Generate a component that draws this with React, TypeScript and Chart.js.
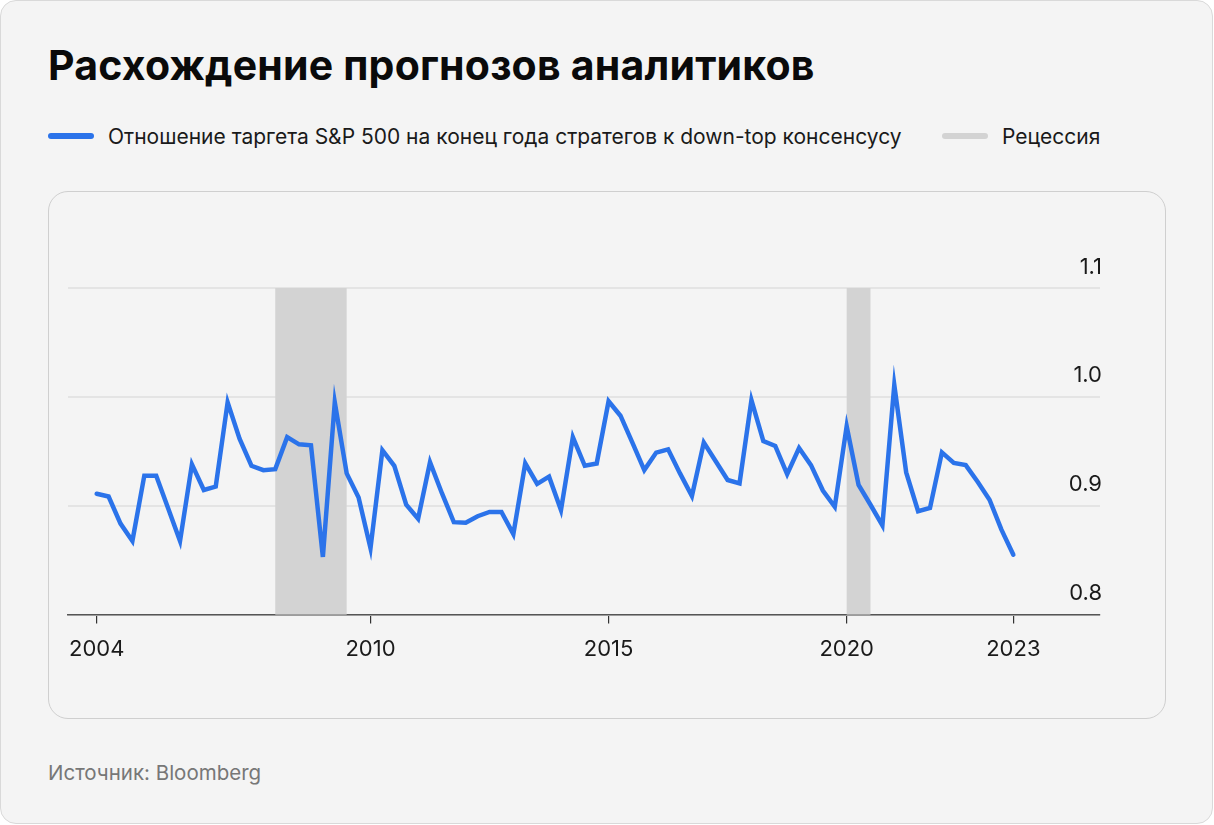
import React, { useEffect, useRef } from "react";
import { Chart, registerables } from "chart.js";

Chart.register(...registerables);

// Ratio of strategists' year-end S&P 500 target to bottom-up consensus (one point per period)
const ratioValues: number[] = [
  0.911, 0.9085, 0.8836, 0.8676, 0.9276, 0.9276, 0.8976, 0.8676, 0.938, 0.9145,
  0.9176, 0.995, 0.9615, 0.9367, 0.9327, 0.9336, 0.963, 0.9564, 0.9555, 0.853,
  0.995, 0.9297, 0.9076, 0.861, 0.951, 0.9367, 0.9009, 0.888, 0.94, 0.9115,
  0.8849, 0.8843, 0.8904, 0.8943, 0.8943, 0.874, 0.939, 0.92, 0.9267, 0.896,
  0.963, 0.9367, 0.9388, 0.996, 0.9827, 0.958, 0.9327, 0.9488, 0.9518, 0.9297,
  0.909, 0.958, 0.9409, 0.9236, 0.9206, 0.997, 0.9594, 0.9549, 0.929, 0.953,
  0.9373, 0.914, 0.899, 0.973, 0.9191, 0.9009, 0.882, 1.011, 0.9306, 0.895,
  0.898, 0.949, 0.9394, 0.9373, 0.922, 0.9055, 0.878, 0.855,
];

// x-axis tick positions (point index) and their labels
const xTickIndex: number[] = [0, 23, 43, 63, 77];
const xTickLabels: string[] = ["2004", "2010", "2015", "2020", "2023"];

// recession periods (point index start/end)
const recessionStart: number[] = [15, 63];
const recessionEnd: number[] = [21, 65];

const yTicks: number[] = [0.8, 0.9, 1.0, 1.1];

const LINE_COLOR = "#2b73ea";
const RECESSION_COLOR = "#d3d3d3";
const FONT = "Inter, 'Noto Sans', sans-serif";

const recessionPlugin = {
  id: "recessionBands",
  beforeDatasetsDraw(chart: any) {
    const { ctx, chartArea, scales } = chart;
    const x = scales.x;
    ctx.save();
    ctx.fillStyle = RECESSION_COLOR;
    for (let i = 0; i < recessionStart.length; i++) {
      const x0 = x.getPixelForValue(recessionStart[i]);
      const x1 = x.getPixelForValue(recessionEnd[i]);
      ctx.fillRect(x0, chartArea.top, x1 - x0, chartArea.bottom - chartArea.top);
    }
    ctx.restore();
  },
};

export default function App() {
  const canvasRef = useRef<HTMLCanvasElement | null>(null);

  useEffect(() => {
    if (!canvasRef.current) return;
    const chart = new Chart(canvasRef.current, {
      type: "line",
      data: {
        datasets: [
          {
            data: ratioValues.map((v, i) => ({ x: i, y: v })),
            borderColor: LINE_COLOR,
            borderWidth: 4.5,
            pointRadius: 0,
            tension: 0,
            fill: false,
            borderCapStyle: "round",
          },
        ],
      },
      options: {
        responsive: false,
        animation: false,
        layout: { padding: { top: 97, bottom: 43, left: 20, right: 62 } },
        plugins: { legend: { display: false }, tooltip: { enabled: false } },
        scales: {
          x: {
            type: "linear",
            min: -2.41,
            max: 84.28,
            afterBuildTicks: (scale: any) => {
              scale.ticks = xTickIndex.map((v) => ({ value: v }));
            },
            ticks: {
              autoSkip: false,
              maxRotation: 0,
              padding: 13,
              color: "#1a1a1a",
              font: { family: FONT, size: 22 },
              callback: (v: any) => {
                const k = xTickIndex.indexOf(Number(v));
                return k >= 0 ? xTickLabels[k] : null;
              },
            },
            grid: {
              drawOnChartArea: false,
              drawTicks: true,
              tickLength: 9,
              color: "#333",
              lineWidth: 1.2,
            },
            border: { display: true, color: "#555", width: 1.5 },
          },
          y: {
            position: "right",
            min: 0.8,
            max: 1.1,
            afterBuildTicks: (scale: any) => {
              scale.ticks = yTicks.map((v) => ({ value: v }));
            },
            ticks: {
              mirror: true,
              padding: 2,
              labelOffset: -21,
              color: "#1a1a1a",
              font: { family: FONT, size: 22 },
              callback: (v: any) => Number(v).toFixed(1),
            },
            grid: { color: "#e4e4e4", lineWidth: 2, drawTicks: false },
            border: { display: false },
          },
        },
      },
      plugins: [recessionPlugin],
    } as any);
    return () => chart.destroy();
  }, []);

  return (
    <div
      style={{
        position: "absolute",
        left: 0,
        top: 0,
        width: 1214,
        height: 825,
        background: "#fff",
        fontFamily: FONT,
      }}
    >
      <div
        style={{
          position: "absolute",
          left: 0,
          top: 0,
          width: 1213,
          height: 824,
          boxSizing: "border-box",
          border: "1px solid #d9d9d9",
          borderRadius: 16,
          background: "#f4f4f4",
        }}
      />
      <div
        style={{
          position: "absolute",
          left: 48,
          top: 45,
          fontSize: 41,
          lineHeight: "41px",
          fontWeight: 700,
          letterSpacing: "0.2px",
          color: "#0a0a0a",
          whiteSpace: "nowrap",
        }}
      >
        Расхождение прогнозов аналитиков
      </div>
      {/* legend */}
      <div
        style={{
          position: "absolute",
          left: 48,
          top: 133,
          width: 46,
          height: 6,
          borderRadius: 3,
          background: LINE_COLOR,
        }}
      />
      <div
        style={{
          position: "absolute",
          left: 108,
          top: 126,
          fontSize: 21,
          lineHeight: "21px",
          color: "#1a1a1a",
          whiteSpace: "nowrap",
        }}
      >
        Отношение таргета S&amp;P 500 на конец года стратегов к down-top консенсусу
      </div>
      <div
        style={{
          position: "absolute",
          left: 942,
          top: 133,
          width: 46,
          height: 6,
          borderRadius: 3,
          background: RECESSION_COLOR,
        }}
      />
      <div
        style={{
          position: "absolute",
          left: 1002,
          top: 126,
          fontSize: 21,
          lineHeight: "21px",
          color: "#1a1a1a",
          whiteSpace: "nowrap",
        }}
      >
        Рецессия
      </div>
      {/* chart card */}
      <div
        style={{
          position: "absolute",
          left: 48,
          top: 191,
          width: 1118,
          height: 528,
          boxSizing: "border-box",
          border: "1px solid #cfcfcf",
          borderRadius: 20,
          background: "#f4f4f4",
        }}
      />
      <canvas
        ref={canvasRef}
        width={1118}
        height={528}
        style={{ position: "absolute", left: 48, top: 191, width: 1118, height: 528 }}
      />
      <div
        style={{
          position: "absolute",
          left: 48,
          top: 762,
          fontSize: 20.5,
          lineHeight: "21px",
          color: "#777",
          whiteSpace: "nowrap",
        }}
      >
        Источник: Bloomberg
      </div>
    </div>
  );
}
